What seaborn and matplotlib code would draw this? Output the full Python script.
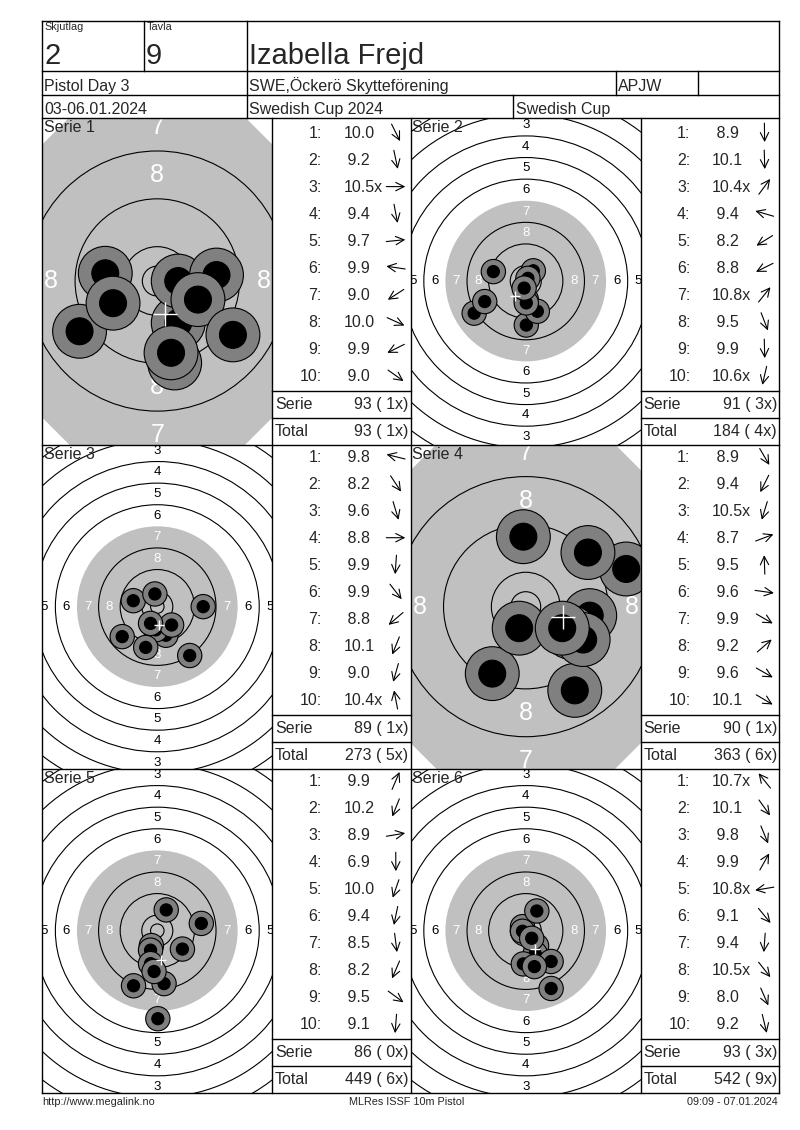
import numpy as np
import pandas as pd
import matplotlib
matplotlib.use("Agg")
import matplotlib.pyplot as plt
from matplotlib.patches import Circle, FancyArrowPatch, RegularPolygon
import seaborn as sns

sns.set_theme(style="white")
plt.rcParams['font.family'] = ['Liberation Sans', 'DejaVu Sans']

# ---------------- data ----------------
relay_label = "Skjutlag"
relay = "2"
target_label = "Tavla"
target_no = "9"
shooter = "Izabella Frejd"
event = "Pistol Day 3"
club = "SWE,Öckerö Skytteförening"
shooter_class = "APJW"
dates = "03-06.01.2024"
competition = "Swedish Cup 2024"
cup = "Swedish Cup"
footer_left = "http://www.megalink.no"
footer_mid = "MLRes ISSF 10m Pistol"
footer_right = "09:09 - 07.01.2024"

series_labels = ["Serie 1", "Serie 2", "Serie 3", "Serie 4", "Serie 5", "Serie 6"]

s1_scores = [10.0, 9.2, 10.5, 9.4, 9.7, 9.9, 9.0, 10.0, 9.9, 9.0]
s1_inner = [0, 0, 1, 0, 0, 0, 0, 0, 0, 0]
s1_x = [3.5, 2.9, 3.5, 2.3, 9.9, -8.7, -13.0, 6.8, -7.4, 12.65]
s1_y = [-7.0, -13.7, 0.0, -12.0, 1.0, 1.3, -8.4, -3.1, -3.7, -9.0]

s2_scores = [8.9, 10.1, 10.4, 9.4, 8.2, 8.8, 10.8, 9.5, 9.9, 10.6]
s2_inner = [0, 0, 1, 0, 0, 0, 1, 0, 0, 1]
s2_x = [0.2, 0.2, 2.8, -12.0, -19.1, -15.2, 0.8, 4.3, 0.2, -0.6]
s2_y = [-16.3, -6.8, 3.8, 3.5, -11.9, -7.6, 1.0, -11.2, -8.1, -2.6]

s3_scores = [9.8, 8.2, 9.6, 8.8, 9.9, 9.9, 8.8, 10.1, 9.0, 10.4]
s3_inner = [0, 0, 0, 0, 0, 0, 0, 0, 0, 1]
s3_x = [-8.9, 12.0, 3.2, 17.0, -0.6, 5.3, -13.0, -2.5, -4.3, -0.9]
s3_y = [2.2, -18.1, -10.6, 0.0, -8.6, -6.8, -11.1, -6.2, -15.1, 4.7]

s4_scores = [8.9, 9.4, 10.5, 8.7, 9.5, 9.6, 9.9, 9.2, 9.6, 10.1]
s4_inner = [0, 0, 1, 0, 0, 0, 0, 0, 0, 0]
s4_x = [8.2, -5.6, -1.1, 16.8, -0.4, 10.7, 7.5, 10.4, 9.6, 6.1]
s4_y = [-14.0, -11.2, -3.6, 6.3, 11.7, -1.5, -4.3, 9.05, -5.5, -3.6]

s5_scores = [9.9, 10.2, 8.9, 6.9, 10.0, 9.4, 8.5, 8.2, 9.5, 9.1]
s5_inner = [0, 0, 0, 0, 0, 0, 0, 0, 0, 0]
s5_x = [3.3, -2.2, 16.3, 0.2, -2.5, -2.5, 2.5, -8.8, 9.3, -1.2]
s5_y = [7.7, -5.5, 2.7, -32.6, -7.2, -12.2, -19.6, -20.4, -6.8, -15.1]

s6_scores = [10.7, 10.1, 9.8, 9.9, 10.8, 9.1, 9.4, 10.5, 8.0, 9.2]
s6_inner = [1, 0, 0, 0, 1, 0, 0, 1, 0, 0]
s6_x = [-1.2, 4.0, 3.5, 4.1, -1.2, 9.4, -0.9, 2.2, 9.4, 3.2]
s6_y = [1.5, -5.6, -8.5, 7.3, -0.2, -11.4, -12.3, -2.8, -21.4, -13.3]

all_scores = [s1_scores, s2_scores, s3_scores, s4_scores, s5_scores, s6_scores]
all_inner = [s1_inner, s2_inner, s3_inner, s4_inner, s5_inner, s6_inner]
all_x = [s1_x, s2_x, s3_x, s4_x, s5_x, s6_x]
all_y = [s1_y, s2_y, s3_y, s4_y, s5_y, s6_y]

# ---------------- layout (pixels) ----------------
W, H = 800, 1130
LEFT, RIGHT, TOP, BOTTOM = 42.3, 779.0, 21.0, 1092.7
ROW1, ROW2, HEAD = 70.7, 95.0, 117.5
PANEL_Y = [HEAD, 444.6, 768.7, BOTTOM]
TGT_X = [(LEFT, 272.3), (410.5, 641.0)]
SCORE_X = [(272.3, 410.5), (641.0, RIGHT)]
panel_scale = [5.98, 2.70, 2.70, 5.98, 2.70, 2.70]   # px per mm
label_fs = [18, 9.5, 9.5, 18, 9.5, 9.5]
octagon_face = [True, False, False, True, False, False]

GRAY = "#C0C0C0"
SHOT = "#808080"
LW = 0.8
SMALL_FS = 7.8
FS = 11.5

fig = plt.figure(figsize=(W / 100, H / 100), dpi=100)
fig.patch.set_facecolor("white")

TEN_R, STEP, INNER_R, BLACK_R = 5.75, 8.0, 2.5, 29.75
OUT_R, IN_R = 4.5, 2.25


def fig_rect(x0, x1, y0, y1):
    return [x0 / W, 1 - y1 / H, (x1 - x0) / W, (y1 - y0) / H]


for i in range(6):
    row, col = divmod(i, 2)
    x0, x1 = TGT_X[col]
    y0, y1 = PANEL_Y[row], PANEL_Y[row + 1]
    sc = panel_scale[i]
    ax = fig.add_axes(fig_rect(x0, x1, y0, y1), zorder=1)
    hw, hh = (x1 - x0) / 2 / sc, (y1 - y0) / 2 / sc
    ax.set_xlim(-hw, hw)
    ax.set_ylim(-hh, hh)
    ax.axis("off")
    # target face (aiming black shown in light gray)
    if octagon_face[i]:
        ax.add_patch(RegularPolygon((0, 0), numVertices=8, radius=BLACK_R / np.cos(np.pi / 8),
                                    orientation=np.pi / 8, facecolor=GRAY, edgecolor="none", zorder=1))
    else:
        ax.add_patch(Circle((0, 0), BLACK_R, facecolor=GRAY, edgecolor="none", zorder=1))
    for k in range(1, 11):
        if k == 7:
            continue
        r = TEN_R + STEP * (10 - k)
        ax.add_patch(Circle((0, 0), r, fill=False, edgecolor="black", lw=LW, zorder=2))
    ax.add_patch(Circle((0, 0), INNER_R, fill=False, edgecolor="black", lw=LW, zorder=2))
    for k in range(1, 9):
        rc = TEN_R - STEP / 2 + STEP * (10 - k)
        c = "white" if k >= 7 else "black"
        for dx, dy in [(0, 1), (0, -1), (1, 0), (-1, 0)]:
            ax.text(dx * rc, dy * rc, str(k), ha="center", va="center",
                    fontsize=label_fs[i], color=c, clip_on=True, zorder=3)
    # shots
    df = pd.DataFrame({"x": all_x[i], "y": all_y[i]})
    for j, (sx, sy) in enumerate(zip(df["x"], df["y"])):
        ax.add_patch(Circle((sx, sy), OUT_R, facecolor=SHOT, edgecolor="black", lw=LW, zorder=4 + j * 0.01))
        ax.add_patch(Circle((sx, sy), IN_R, facecolor="black", edgecolor="black", lw=LW, zorder=4 + j * 0.01 + 0.005))
    # mean point of impact
    mean = df.mean()
    cross_pt = 4.0 * sc * 0.72
    sns.scatterplot(x=[mean["x"]], y=[mean["y"]], marker="+", s=cross_pt ** 2,
                    color="white", linewidth=1.0, ax=ax, zorder=10, legend=False)
    ax.set_xlim(-hw, hw)
    ax.set_ylim(-hh, hh)
    ax.set_xlabel("")
    ax.set_ylabel("")

# ---------------- overlay: table lines and texts ----------------
ov = fig.add_axes([0, 0, 1, 1], zorder=5)
ov.set_xlim(0, W)
ov.set_ylim(H, 0)
ov.axis("off")


def hline(y, xa=LEFT, xb=RIGHT):
    ov.plot([xa, xb], [y, y], color="black", lw=1.0, solid_capstyle="projecting")


def vline(x, ya, yb):
    ov.plot([x, x], [ya, yb], color="black", lw=1.0, solid_capstyle="projecting")


for y in [TOP, ROW1, ROW2, HEAD, PANEL_Y[1], PANEL_Y[2], BOTTOM]:
    hline(y)
vline(LEFT, TOP, BOTTOM)
vline(RIGHT, TOP, BOTTOM)
vline(144.3, TOP, ROW1)
vline(246.7, TOP, HEAD)
vline(616.0, ROW1, ROW2)
vline(698.0, ROW1, ROW2)
vline(513.0, ROW2, HEAD)
for x in [272.3, 410.5, 641.0]:
    vline(x, HEAD, BOTTOM)
for r in range(3):
    yb = PANEL_Y[r + 1]
    for (sx0, sx1) in SCORE_X:
        hline(yb - 54, sx0, sx1)
        hline(yb - 27, sx0, sx1)

ov.text(44.5, 22.5, relay_label, fontsize=SMALL_FS, va="top", ha="left")
ov.text(146.5, 22.5, target_label, fontsize=SMALL_FS, va="top", ha="left")
ov.text(44, 63.5, relay, fontsize=21, va="baseline", ha="left")
ov.text(146, 63.5, target_no, fontsize=21, va="baseline", ha="left")
ov.text(249, 63.5, shooter, fontsize=21, va="baseline", ha="left")
ov.text(44, 90.7, event, fontsize=FS, va="baseline")
ov.text(249, 90.7, club, fontsize=FS, va="baseline")
ov.text(618, 90.7, shooter_class, fontsize=FS, va="baseline")
ov.text(44, 114.3, dates, fontsize=FS, va="baseline")
ov.text(249, 114.3, competition, fontsize=FS, va="baseline")
ov.text(516, 114.3, cup, fontsize=FS, va="baseline")

ov.text(42.3, 1102, footer_left, fontsize=SMALL_FS, va="center", ha="left")
ov.text(407, 1102, footer_mid, fontsize=SMALL_FS, va="center", ha="center")
ov.text(778, 1102, footer_right, fontsize=SMALL_FS, va="center", ha="right")

running_total, running_x = 0, 0
for i in range(6):
    row, col = divmod(i, 2)
    py0, py1 = PANEL_Y[row], PANEL_Y[row + 1]
    tx0 = TGT_X[col][0]
    sx0, sx1 = SCORE_X[col]
    ov.text(tx0 + 2, py0 + 14, series_labels[i], fontsize=FS, va="baseline", ha="left")
    row_top0 = py1 - 54 - 270
    ser_total, ser_x = 0, 0
    for j in range(10):
        v = all_scores[i][j]
        inner = all_inner[i][j]
        yt = row_top0 + 27 * j
        ov.text(sx0 + 49.5, yt + 17.5, f"{j + 1}:", fontsize=FS, ha="right", va="baseline")
        txt = f"{v:.1f}" + ("x" if inner else "")
        if v < 10:
            txt = " " + txt
        ov.text(sx0 + 71, yt + 17.5, txt, fontsize=FS, ha="left", va="baseline")
        ang = np.arctan2(all_y[i][j], all_x[i][j])
        L = 19.0
        cx, cy = sx0 + 123.5, yt + 12
        ddx, ddy = np.cos(ang) * L / 2, -np.sin(ang) * L / 2
        ov.add_patch(FancyArrowPatch((cx - ddx, cy - ddy), (cx + ddx, cy + ddy),
                                     arrowstyle="->,head_length=0.6,head_width=0.3",
                                     mutation_scale=10, lw=0.8, color="black",
                                     shrinkA=0, shrinkB=0))
        ser_total += int(np.floor(v + 1e-9))
        ser_x += inner
    running_total += ser_total
    running_x += ser_x
    ov.text(sx0 + 2.5, py1 - 54 + 18.5, "Serie", fontsize=FS, va="baseline", ha="left")
    ov.text(sx1 - 2, py1 - 54 + 18.5, f"{ser_total} ( {ser_x}x)", fontsize=FS, va="baseline", ha="right")
    ov.text(sx0 + 2.5, py1 - 27 + 18.5, "Total", fontsize=FS, va="baseline", ha="left")
    ov.text(sx1 - 2, py1 - 27 + 18.5, f"{running_total} ( {running_x}x)", fontsize=FS, va="baseline", ha="right")

fig.savefig("out.png", dpi=100, facecolor="white")
